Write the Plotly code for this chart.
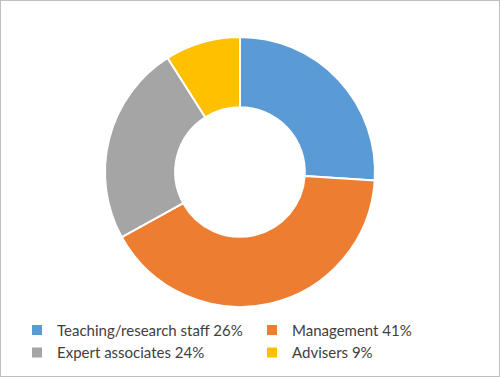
import plotly.graph_objects as go

categories = ["Teaching/research staff", "Management", "Expert associates", "Advisers"]
values = [26, 41, 24, 9]
colors = ["#5B9BD5", "#ED7D31", "#A5A5A5", "#FFC000"]
labels = [f"{c} {v}%" for c, v in zip(categories, values)]

fig = go.Figure(go.Pie(
    labels=labels,
    values=values,
    hole=0.48,
    sort=False,
    direction="clockwise",
    rotation=0,
    textinfo="none",
    marker=dict(colors=colors, line=dict(color="white", width=2)),
    domain=dict(x=[0.21, 0.75], y=[0.1857, 0.9019]),
))

fig.update_layout(
    width=500, height=377,
    margin=dict(l=0, r=0, t=0, b=0, autoexpand=False),
    paper_bgcolor="white",
    plot_bgcolor="white",
    font=dict(family="Lato, Liberation Sans, Arial, sans-serif", size=15, color="#404040"),
    legend=dict(
        orientation="h",
        x=0.034, xanchor="left",
        y=0.168, yanchor="top",
        entrywidth=190, entrywidthmode="pixels",
        tracegroupgap=0,
        font=dict(size=15, color="#404040"),
        itemclick=False,
    ),
    shapes=[dict(type="rect", xref="paper", yref="paper", x0=0, y0=0, x1=1, y1=1,
                 line=dict(color="#BFBFBF", width=2), fillcolor="rgba(0,0,0,0)")],
)

fig.write_html("out.html", config={"displayModeBar": False},
               post_script="document.body.style.margin='0';document.body.style.overflow='hidden';")
